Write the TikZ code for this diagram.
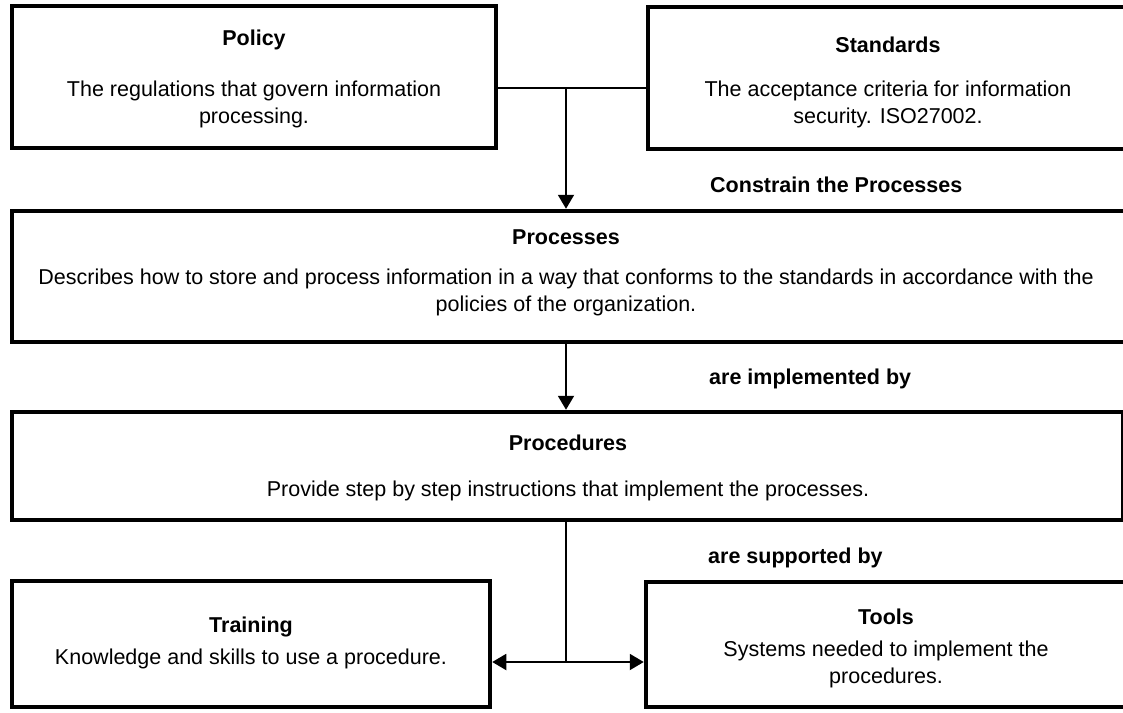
\documentclass[tikz,border=0pt]{standalone}
\usepackage{fontspec}
\setmainfont{Liberation Sans}
\usetikzlibrary{arrows.meta}
\begin{document}
\begin{tikzpicture}[x=1pt,y=-1pt,
  box/.style={draw, line width=4.5pt, rectangle, inner sep=0pt},
  conn/.style={line width=1.9pt},
  arr/.style={conn, -{Triangle[length=14pt,width=16pt]}},
  ttl/.style={font=\fontsize{21.5}{27}\selectfont\bfseries, inner sep=0pt},
  txt/.style={font=\fontsize{21.5}{27}\selectfont, inner sep=0pt, align=center},
  lbl/.style={font=\fontsize{21.5}{27}\selectfont\bfseries, inner sep=0pt, anchor=west}]
\useasboundingbox (0,0) rectangle (1123,712);
\fill[white] (0,0) rectangle (1123,712);
\clip (0,0) rectangle (1123,712);
% boxes
\node[box, minimum width=484pt, minimum height=142pt] (policy) at (254,77) {};
\node[box, minimum width=482pt, minimum height=142pt] (standards) at (889,78) {};
\node[box, minimum width=1116pt, minimum height=131pt] (processes) at (570,276.5) {};
\node[box, minimum width=1111.5pt, minimum height=108pt] (procedures) at (567.75,466) {};
\node[box, minimum width=478pt, minimum height=126pt] (training) at (251,644) {};
\node[box, minimum width=482pt, minimum height=125pt] (tools) at (887,644.5) {};
% texts
\node[ttl] (policyT) at (254,40) {Policy};
\node[txt] (policyB) at (254,104) {The regulations that govern information\\processing.};
\node[ttl] (standardsT) at (888,45) {Standards};
\node[txt] (standardsB) at (888,104) {The acceptance criteria for information\\security. ISO27002.};
\node[ttl] (processesT) at (566,237) {Processes};
\node[txt] (processesB) at (566,292) {Describes how to store and process information in a way that conforms to the standards in accordance with the\\policies of the organization.};
\node[ttl] (proceduresT) at (568,443) {Procedures};
\node[txt] (proceduresB) at (568,491) {Provide step by step instructions that implement the processes.};
\node[ttl] (trainingT) at (251,627) {Training};
\node[txt] (trainingB) at (251,659) {Knowledge and skills to use a procedure.};
\node[ttl] (toolsT) at (886,617) {Tools};
\node[txt] (toolsB) at (886,664) {Systems needed to implement the\\procedures.};
% labels
\node[lbl] (l1) at (710,185) {Constrain the Processes};
\node[lbl] (l2) at (709,379) {are implemented by};
\node[lbl] (l3) at (708,558) {are supported by};
% connectors
\coordinate (j1) at (566,88);
\coordinate (j2) at (566,662);
\draw[conn] (policy.east |- j1) -- (standards.west |- j1);
\draw[arr] (j1) -- (j1 |- processes.north);
\draw[arr] (processes.south -| j1) -- (procedures.north -| j1);
\draw[conn] (procedures.south -| j2) -- (j2);
\draw[arr] (j2) -- (training.east |- j2);
\draw[arr] (j2) -- (tools.west |- j2);
\end{tikzpicture}
\end{document}
